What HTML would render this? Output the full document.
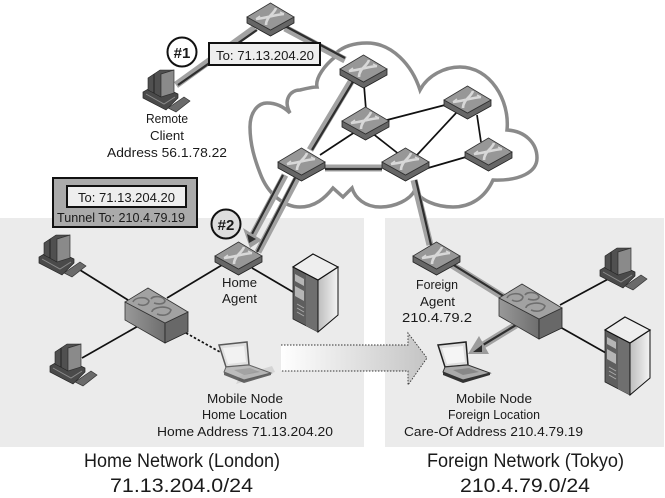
<!DOCTYPE html>
<html><head><meta charset="utf-8"><style>
html,body{margin:0;padding:0;background:#fff}
svg{display:block}
text{font-family:"Liberation Sans",sans-serif;fill:#1a1a1a}
</style></head><body>
<svg width="665" height="498" viewBox="0 0 665 498" xmlns="http://www.w3.org/2000/svg">
<defs>
<linearGradient id="ar" x1="0" x2="1" y1="0" y2="0"><stop offset="0" stop-color="#fff"/><stop offset="1" stop-color="#c4c4c4"/></linearGradient>
<linearGradient id="fr" x1="0" x2="1" y1="0" y2="0"><stop offset="0" stop-color="#999"/><stop offset="1" stop-color="#6e6e6e"/></linearGradient>
<linearGradient id="sv" x1="0" x2="1" y1="0" y2="0"><stop offset="0" stop-color="#bdbdbd"/><stop offset="1" stop-color="#f4f4f4"/></linearGradient>
<g id="router">
<path d="M0 14V20L23.500 33L47 20V14L23.500 27Z" fill="#666" stroke="#222" stroke-width=".8"/>
<path d="M23.500 0L47 14L23.500 27L0 14Z" fill="#979797" stroke="#333" stroke-width=".8"/>
<path d="M9 16C20 15 26 12 37 11M29 5C27 11 19 14 19 22" fill="none" stroke="#d8d8d8" stroke-width="2.600"/>
<path d="M9 16L13 13M37 11L33 9" stroke="#d8d8d8" stroke-width="1.500"/>
</g>
<g id="pc">
<path d="M1 24L15 16L36 26V30L24 42L1 30Z" fill="#4a4a4a" stroke="#222" stroke-width=".7"/>
<path d="M26 40L42 29L48 33L34 44Z" fill="#6a6a6a" stroke="#333" stroke-width=".7"/>
<path d="M6 10L18 2H32L19 6V29L6 22Z" fill="#505050" stroke="#222" stroke-width=".6"/>
<path d="M12 6V25" stroke="#222" stroke-width="1"/>
<path d="M19 6L32 2V25L19 29Z" fill="#8a8a8a" stroke="#333" stroke-width=".7"/>
<path d="M4 26L22 36L33 29" fill="none" stroke="#8a8a8a" stroke-width="1"/>
</g>
<g id="server">
<path d="M0 13V65L25 78V26Z" fill="#5e5e5e" stroke="#222" stroke-width=".8"/>
<path d="M13 20L25 26V78L13 72Z" fill="#6f6f6f"/>
<path d="M25 26L45 13V61L25 78Z" fill="url(#sv)" stroke="#111" stroke-width="1"/>
<path d="M20 0L45 13L25 26L0 13Z" fill="#eee" stroke="#111" stroke-width="1.200"/>
<path d="M2 20L11 25V32L2 27ZM2 32L11 37V47L2 42Z" fill="#b5b5b5"/>
<path d="M4 50L11 54M4 54L11 58M4 58L11 62" stroke="#aaa" stroke-width="1"/>
</g>
<g id="sw2">
<path d="M1 14V32L41 55V35Z" fill="url(#fr)" stroke="#333" stroke-width=".8"/>
<path d="M41 35L64 24V44L41 55Z" fill="#686868" stroke="#222" stroke-width=".8"/>
<path d="M1 14L24 0L64 24L41 35Z" fill="#a2a2a2" stroke="#333" stroke-width=".8"/>
<g fill="none" stroke="#6e6e6e" stroke-width="1.600">
<path d="M9 14C11 9 22 8 25 13C24 18 17 18 14 16"/><path d="M27 11C29 7 40 8 41 13C40 17 33 16 30 15"/><path d="M28 24C28 19 43 17 47 22C45 28 38 28 33 26"/>
</g>
</g>
<g id="laptop">
<path d="M1 3L29 0L31 23L8 25Z" fill="#ddd" stroke="#222" stroke-width="1.500"/>
<path d="M5 6L26 4L28 20L10 22Z" fill="#f5f5f5"/>
<path d="M8 25L31 23L53 31L26 38L6 30Z" fill="#aaa" stroke="#333" stroke-width="1"/>
<path d="M6 30L26 38L53 31V33L26 41L6 33Z" fill="#333"/>
<path d="M16 28L32 26L42 30L26 33Z" fill="#888"/>
</g>
</defs>

<rect width="665" height="498" fill="#fff"/>
<rect x="0" y="218" width="364" height="229" fill="#ebebeb"/>
<rect x="385" y="218" width="279" height="229" fill="#ebebeb"/>

<path d="M336 53C345 45 357 43 367 43C392 43 412 65 420 90C428 75 445 67 460 67C490 67 510 100 507 130C525 131 537 143 537 158C537 172 520 181 493 180C485 198 470 207 453 207C436 207 420 200 415 190C410 200 395 207 380 207C365 207 355 198 352 188L343 197L333 188C325 198 315 207 300 207C285 207 268 195 260 173C255 160 250 145 250 127C250 112 258 103 267 103C278 103 285 108 290 113C283 100 290 90 300 90C308 88 314 87 317 87C315 78 325 65 335 57" fill="none" stroke="#8a8a8a" stroke-width="3.500"/>

<g fill="none" stroke="#a2a2a2" stroke-width="7">
<path d="M176 85L255 28"/><path d="M285 28L345 60"/><path d="M352 80L310 150"/>
<path d="M285 175L250 240"/><path d="M297 178L258 252"/>
<path d="M325 168H382"/><path d="M414 180L430 245"/><path d="M452 265L505 298"/><path d="M516 325L480 347"/>
</g>
<g fill="none" stroke="#2e2e2e" stroke-width="2.200">
<path d="M178 85L257 30"/><path d="M285 26L345 58"/><path d="M354 80L312 150"/>
<path d="M283 175L252 234"/><path d="M295 178L257 252"/>
<path d="M325 169H382"/><path d="M416 180L431 245"/><path d="M452 264L505 297"/><path d="M516 325L478 348"/>
</g>

<g fill="none" stroke="#111" stroke-width="1.700">
<path d="M364 85L366 110"/><path d="M387 120L445 105"/><path d="M355 132L320 155"/><path d="M372 133L400 155"/>
<path d="M417 155L457 112"/><path d="M477 115L481 142"/><path d="M428 168L466 157"/>
<path d="M80 270L128 300"/><path d="M82 358L140 325"/><path d="M167 298L222 265"/><path d="M252 268L293 292"/>
<path d="M560 305L612 277"/><path d="M560 327L606 353"/>
</g>
<path d="M186 333L220 352" fill="none" stroke="#111" stroke-width="1.700" stroke-dasharray="2.500 2"/>

<path d="M281 345H408V333L427 358L408 385V371H281Z" fill="url(#ar)"/>
<path d="M281 345H408V333L427 358L408 385V371H281" fill="none" stroke="#333" stroke-width=".9" stroke-dasharray="1.500 1.500"/>

<use href="#router" x="247" y="3"/>
<use href="#router" x="340" y="55"/>
<use href="#router" x="342" y="107"/>
<use href="#router" x="444" y="86"/>
<use href="#router" x="465" y="138"/>
<use href="#router" x="382" y="148"/>
<use href="#router" x="278" y="148"/>
<use href="#router" x="215" y="242"/>
<use href="#router" x="413" y="242"/>

<path d="M243 228L262 240L250 248Z" fill="#9c9c9c"/>
<path d="M247 234L256 239L249 243Z" fill="#2e2e2e"/>

<use href="#pc" x="142" y="68"/>
<use href="#pc" x="38" y="233"/>
<use href="#pc" x="49" y="342"/>
<use href="#pc" x="599" y="246"/>

<use href="#sw2" x="124" y="288"/>
<use href="#sw2" x="498" y="284"/>

<use href="#server" x="293" y="254" />
<use href="#server" x="605" y="317"/>

<path d="M236 384L275 372L272 366L240 376Z" fill="#d4d4d4"/>
<use href="#laptop" x="218" y="342" opacity=".72"/>
<use href="#laptop" x="437" y="342"/>

<path d="M468 354L479 336L489 354Z" fill="#9c9c9c"/>
<path d="M473 352L482 345V352Z" fill="#2e2e2e"/>

<circle cx="182" cy="52" r="14.500" fill="#fff" stroke="#111" stroke-width="2"/>
<text x="182" y="58" font-size="15" font-weight="bold" text-anchor="middle">#1</text>
<circle cx="226" cy="224" r="14.500" fill="#ddd" stroke="#111" stroke-width="2"/>
<text x="226" y="230" font-size="15" font-weight="bold" text-anchor="middle">#2</text>

<rect x="209" y="43" width="111" height="22" fill="#eee" stroke="#111" stroke-width="2"/>
<text x="216" y="60" font-size="13" textLength="98" lengthAdjust="spacingAndGlyphs">To: 71.13.204.20</text>

<rect x="53" y="178" width="144" height="49" fill="#aaa" stroke="#111" stroke-width="2"/>
<rect x="67" y="186" width="119" height="21" fill="#eee" stroke="#111" stroke-width="2"/>
<text x="78" y="202" font-size="13" textLength="97" lengthAdjust="spacingAndGlyphs">To: 71.13.204.20</text>
<text x="57" y="222" font-size="13" textLength="128" lengthAdjust="spacingAndGlyphs">Tunnel To: 210.4.79.19</text>

<g font-size="13">
<text x="146" y="123" textLength="42" lengthAdjust="spacingAndGlyphs">Remote</text>
<text x="150" y="140" textLength="34" lengthAdjust="spacingAndGlyphs">Client</text>
<text x="107" y="157" textLength="120" lengthAdjust="spacingAndGlyphs">Address 56.1.78.22</text>
<text x="222" y="287" textLength="35" lengthAdjust="spacingAndGlyphs">Home</text>
<text x="222" y="303" textLength="35" lengthAdjust="spacingAndGlyphs">Agent</text>
<text x="416" y="289" textLength="42" lengthAdjust="spacingAndGlyphs">Foreign</text>
<text x="420" y="306" textLength="35" lengthAdjust="spacingAndGlyphs">Agent</text>
<text x="402" y="322" textLength="70" lengthAdjust="spacingAndGlyphs">210.4.79.2</text>
<text x="207" y="403" textLength="76" lengthAdjust="spacingAndGlyphs">Mobile Node</text>
<text x="202" y="419" textLength="85" lengthAdjust="spacingAndGlyphs">Home Location</text>
<text x="157" y="436" textLength="176" lengthAdjust="spacingAndGlyphs">Home Address 71.13.204.20</text>
<text x="456" y="403" textLength="76" lengthAdjust="spacingAndGlyphs">Mobile Node</text>
<text x="448" y="419" textLength="92" lengthAdjust="spacingAndGlyphs">Foreign Location</text>
<text x="404" y="436" textLength="179" lengthAdjust="spacingAndGlyphs">Care-Of Address 210.4.79.19</text>
</g>
<g font-size="19">
<text x="84" y="467" textLength="196" lengthAdjust="spacingAndGlyphs">Home Network (London)</text>
<text x="110" y="492" textLength="143" lengthAdjust="spacingAndGlyphs">71.13.204.0/24</text>
<text x="427" y="467" textLength="197" lengthAdjust="spacingAndGlyphs">Foreign Network (Tokyo)</text>
<text x="460" y="492" textLength="130" lengthAdjust="spacingAndGlyphs">210.4.79.0/24</text>
</g>
</svg>
</body></html>
